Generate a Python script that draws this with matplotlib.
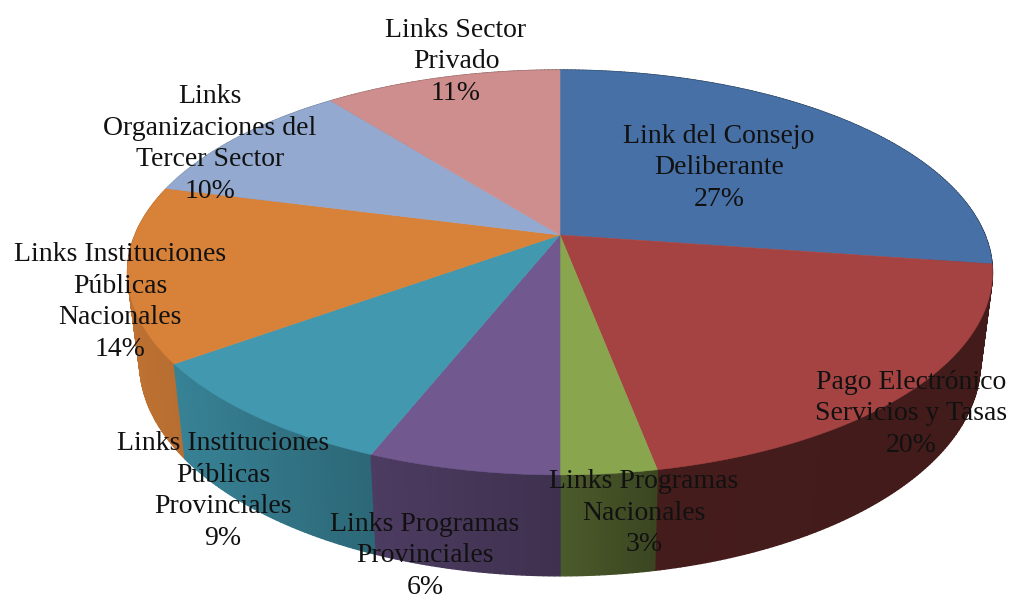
import numpy as np
import matplotlib
matplotlib.use("Agg")
import matplotlib.pyplot as plt
from matplotlib.collections import PolyCollection
from matplotlib.patches import Polygon

categories = ["Link del Consejo\nDeliberante", "Pago Electrónico\nServicios y Tasas",
              "Links Programas\nNacionales", "Links Programas\nProvinciales",
              "Links Instituciones\nPúblicas\nProvinciales",
              "Links Instituciones\nPúblicas\nNacionales",
              "Links\nOrganizaciones del\nTercer Sector", "Links Sector\nPrivado"]
values = [27.3, 19.7, 3, 6, 9, 14, 10.4, 10.6]
colors = ["#4670A6", "#A54342", "#89A54E", "#71588F", "#4198AF", "#D78139", "#93A9CF", "#CD8E8D"]
label_x = [719, 911, 644, 425, 223, 120, 210, 456]
label_y = [168, 414, 513, 556, 491, 302, 144, 62]

CX, CY, K, KY, H = 560.0, 235.0, 425.0, 195.5, 0.185


def top(theta):
    """Perspective projection of the pie's top face; theta clockwise from 12 o'clock."""
    sx, sy = np.sin(theta), np.cos(theta)
    den = 1 + H * sy
    return CX + K * sx / den, CY - KY * sy / den, den


def base(theta):
    x, y, den = top(theta)
    return CX + 0.972 * (x - CX), y + 31 + 57 / den


def shade(x):
    return np.interp(x, [130, 180, 370, 560, 660, 990], [0.88, 0.85, 0.68, 0.55, 0.42, 0.40])


fig = plt.figure(figsize=(10.09, 5.96), dpi=100, facecolor="white")
ax = fig.add_axes([0, 0, 1, 1])
ax.set_xlim(0, 1009)
ax.set_ylim(596, 0)
ax.axis("off")

edges = 2 * np.pi * np.concatenate([[0], np.cumsum(values)]) / np.sum(values)

quads, qcols, qdepth = [], [], []
for i, col in enumerate(colors):
    rgb = np.array(matplotlib.colors.to_rgb(col))
    ts = np.linspace(edges[i], edges[i + 1], max(4, int(values[i] * 6)))
    for a, b in zip(ts[:-1], ts[1:]):
        xa, ya, _ = top(a)
        xb, yb, _ = top(b)
        xa2, ya2 = base(a)
        xb2, yb2 = base(b)
        quads.append([(xa, ya), (xb, yb), (xb2, yb2), (xa2, ya2)])
        qcols.append(tuple(rgb * shade((xa + xb) / 2)))
        qdepth.append((ya + yb) / 2)

order = np.argsort(qdepth)
ax.add_collection(PolyCollection([quads[j] for j in order],
                                 facecolors=[qcols[j] for j in order],
                                 edgecolors=[qcols[j] for j in order],
                                 linewidths=1.0, zorder=1))

for i, col in enumerate(colors):
    ts = np.linspace(edges[i], edges[i + 1], 120)
    x, y, _ = top(ts)
    pts = np.column_stack([np.r_[CX, x], np.r_[CY, y]])
    ax.add_patch(Polygon(pts, closed=True, facecolor=col, edgecolor=col, linewidth=0.4, zorder=2))

for name, v, lx, ly in zip(categories, values, label_x, label_y):
    ax.text(lx, ly, f"{name}\n{v:.0f}%", ha="center", va="center", multialignment="center",
            family="Liberation Serif", fontsize=20, color="#111111", linespacing=1.34, zorder=3)

fig.savefig("out.png", dpi=100, facecolor="white")
